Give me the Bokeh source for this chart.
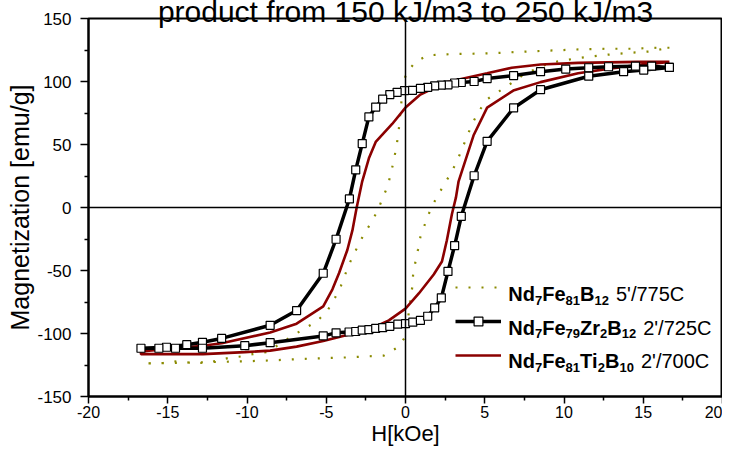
from bokeh.plotting import figure
from bokeh.models import (FixedTicker, Span, Label, Legend, LegendItem)
from bokeh.embed import file_html
from bokeh.resources import INLINE

# ---------------- data ----------------
# Nd7Fe79Zr2B12 2'/725C (black, squares): descending then ascending branch
zr_h_down = [16.65, 15.53, 14.51, 12.81, 11.56, 10.11, 8.52, 6.82, 5.15, 4.33, 3.52, 3.10, 2.68, 2.26,
             1.84, 1.40, 0.94, 0.44, -0.06, -0.53, -0.99, -1.44, -1.88, -2.31, -2.73, -3.14, -3.54,
             -4.38, -5.19, -6.87, -8.54, -11.60, -12.81, -13.80, -15.08, -16.69]
zr_m_down = [111.2, 112.2, 112.2, 111.7, 110.9, 109.9, 107.8, 104.7, 102.3, 100.0, 99.2, 98.8, 97.4, 97.2,
             96.6, 95.3, 94.5, 93.0, 92.8, 91.4, 89.6, 86.0, 79.7, 71.9, 50.7, 29.9, 6.8,
             -25.2, -52.2, -81.8, -93.5, -103.9, -107.0, -108.9, -110.9, -111.7]
zr_h_up = [-15.56, -14.51, -12.81, -10.14, -8.54, -5.19, -4.38, -3.56, -3.14, -2.73, -2.31, -1.88, -1.44,
           -0.99, -0.48, 0.00, 0.46, 0.94, 1.40, 1.84, 2.26, 2.68, 3.10, 3.52, 4.33, 5.15, 6.82, 8.52,
           11.56, 13.76, 15.03, 16.65]
zr_m_up = [-111.7, -111.7, -111.7, -109.7, -107.3, -101.9, -99.5, -98.8, -98.4, -97.4, -96.9, -95.9, -95.3,
           -94.3, -92.5, -92.2, -91.0, -89.6, -86.3, -79.7, -71.7, -50.7, -30.2, -7.0, 25.2, 52.5, 79.0, 93.5,
           104.2, 107.8, 109.1, 111.2]

# Nd7Fe81Ti2B10 2'/700C (dark red line)
ti_h_down = [16.65, 14.65, 10.89, 8.52, 6.70, 5.15, 2.51, 0.94, 0.00, -0.84, -1.88, -2.31, -2.73, -3.08,
             -3.35, -3.67, -4.19, -4.61, -5.19, -6.87, -8.54, -11.60, -12.78, -16.69]
ti_m_down = [115.6, 115.6, 114.8, 113.5, 110.9, 106.5, 99.2, 89.6, 79.3, 66.3, 52.0, 39.0, 20.8, 0.0,
             -18.2, -33.7, -52.0, -64.9, -78.5, -92.2, -99.2, -107.8, -109.7, -114.3]
ti_h_up = [-16.69, -12.78, -10.14, -8.54, -6.87, -5.19, -3.56, -2.73, -1.88, -1.05, 0.00, 0.84, 1.78,
           2.30, 2.61, 2.93, 3.18, 3.35, 4.29, 5.15, 6.80, 8.52, 10.89, 12.98, 14.65, 16.65]
ti_m_up = [-116.4, -116.4, -114.8, -113.6, -110.4, -106.0, -100.8, -98.8, -94.3, -89.6, -80.3, -68.2, -53.2,
           -42.9, -26.0, -5.2, 7.8, 20.8, 57.1, 79.3, 92.8, 99.5, 106.5, 110.4, 113.0, 115.6]

# Nd7Fe81B12 5'/775C (olive dotted)
b_h_down = [16.65, 15.87, 14.23, 12.63, 11.03, 9.42, 7.81, 6.22, 4.60, 3.03, 1.40, 0.63, 0.04, -0.17,
            -0.31, -0.46, -0.73, -1.11, -1.43, -1.76, -2.18, -2.66, -3.08, -3.45, -3.77, -4.08, -4.44,
            -4.92, -5.59, -6.39, -7.22, -8.02, -8.79, -9.64, -10.36, -11.20, -12.56, -13.40, -14.45,
            -15.29, -16.55]
b_m_down = [126.8, 126.8, 126.0, 126.0, 125.5, 124.7, 123.9, 122.9, 122.1, 121.8, 120.8, 115.6, 106.5, 96.1,
            76.6, 57.1, 37.6, 17.4, 7.8, -2.6, -12.2, -22.1, -32.5, -42.1, -52.0, -62.4, -71.5,
            -81.8, -90.4, -96.1, -102.6, -109.1, -114.8, -116.4, -118.2, -119.5, -123.4, -123.4, -122.0,
            -123.4, -123.9]
b_h_up = [-16.55, -10.20, -8.59, -6.18, -3.77, -1.36, -0.53, 0.00, 0.21, 0.31, 0.42, 0.48, 0.63, 0.79,
          0.94, 1.21, 1.53, 1.88, 2.34, 2.83, 3.24, 3.87, 4.18, 4.60, 5.13, 5.90, 6.70, 7.49, 9.11,
          10.68, 12.35, 13.92, 15.49, 16.29, 16.65]
b_m_up = [-123.9, -122.1, -121.4, -120.0, -119.0, -117.5, -111.2, -102.6, -83.2, -74.0, -63.7, -53.2,
          -42.9, -33.3, -23.4, -13.8, -3.1, 6.0, 16.1, 26.5, 36.4, 55.9, 65.7, 75.8, 85.7, 92.2, 98.8,
          105.8, 114.8, 118.2, 120.8, 122.6, 123.9, 126.0, 126.8]

x_ticks = [-20, -15, -10, -5, 0, 5, 10, 15, 20]
x_minor = [-17.5, -12.5, -7.5, -2.5, 2.5, 7.5, 12.5, 17.5]
y_ticks = [-150, -100, -50, 0, 50, 100, 150]
y_minor = [-125, -75, -25, 25, 75, 125]

title_text = "product from 150 kJ/m3 to 250 kJ/m3"
x_title = "H[kOe]"
y_title = "Magnetization [emu/g]"

legend_rows = [
    [("Nd", "b"), ("7", "s"), ("Fe", "b"), ("81", "s"), ("B", "b"), ("12", "s"), ("5'/775C", "r")],
    [("Nd", "b"), ("7", "s"), ("Fe", "b"), ("79", "s"), ("Zr", "b"), ("2", "s"), ("B", "b"), ("12", "s"),
     ("2'/725C", "r")],
    [("Nd", "b"), ("7", "s"), ("Fe", "b"), ("81", "s"), ("Ti", "b"), ("2", "s"), ("B", "b"), ("10", "s"),
     ("2'/700C", "r")],
]

OLIVE = "#8a8a00"
DARKRED = "#8B0000"
FONT = "Liberation Sans"

# ---------------- figure ----------------
p = figure(width=722, height=448, x_range=(-20, 20), y_range=(-150, 150),
           output_backend="svg", toolbar_location=None,
           min_border_left=88, min_border_right=0, min_border_top=18, min_border_bottom=45)
p.grid.visible = False
p.outline_line_color = "black"
p.outline_line_width = 2
p.background_fill_color = "white"
p.border_fill_color = "white"

# title, cut off at the top edge as in the original picture
p.title.text = title_text
p.title.text_font = FONT
p.title.text_font_size = "30px"
p.title.text_font_style = "normal"
p.title.text_color = "black"
p.title.align = "center"
p.title.offset = 14
p.title.standoff = -18

for ax in (p.xaxis[0], p.yaxis[0]):
    ax.axis_line_width = 2
    ax.major_tick_line_width = 1.5
    ax.minor_tick_line_width = 1.5
    ax.major_tick_in = 0
    ax.minor_tick_in = 0
    ax.major_label_text_font = FONT
    ax.major_label_text_color = "black"
    ax.axis_label_text_font = FONT
    ax.axis_label_text_font_style = "normal"
    ax.axis_label_text_color = "black"
    ax.axis_label_standoff = 0

p.xaxis.ticker = FixedTicker(ticks=x_ticks, minor_ticks=x_minor)
p.yaxis.ticker = FixedTicker(ticks=y_ticks, minor_ticks=y_minor)
p.xaxis.major_label_overrides = {t: str(t) for t in x_ticks}
p.yaxis.major_label_overrides = {t: str(t) for t in y_ticks}
p.xaxis.major_label_text_font_size = "16px"
p.yaxis.major_label_text_font_size = "17px"
p.xaxis.major_tick_out = 7
p.xaxis.minor_tick_out = 4
p.yaxis.major_tick_out = 8
p.yaxis.minor_tick_out = 4
p.xaxis.major_label_standoff = 2
p.yaxis.major_label_standoff = 9
p.xaxis.axis_label = x_title
p.yaxis.axis_label = y_title
p.xaxis.axis_label_text_font_size = "22px"
p.yaxis.axis_label_text_font_size = "25px"

p.add_layout(Span(location=0, dimension="height", line_color="black", line_width=1.5))
p.add_layout(Span(location=0, dimension="width", line_color="black", line_width=1.5))

b_h = b_h_down + b_h_up
b_m = b_m_down + b_m_up
ti_h = ti_h_down + ti_h_up
ti_m = ti_m_down + ti_m_up
zr_h = zr_h_down + zr_h_up
zr_m = zr_m_down + zr_m_up

r_b = p.line(b_h, b_m, line_color=OLIVE, line_width=2.2, line_dash="2 11")
r_ti = p.line(ti_h, ti_m, line_color=DARKRED, line_width=2.6)
r_zr = p.line(zr_h, zr_m, line_color="black", line_width=3.5)
r_zr_pts = p.scatter(zr_h, zr_m, marker="square", size=8, fill_color="white",
                     line_color="black", line_width=1.2)

legend = Legend(items=[LegendItem(label=" ", renderers=[r_b]),
                       LegendItem(label=" ", renderers=[r_zr, r_zr_pts]),
                       LegendItem(label=" ", renderers=[r_ti])],
                location=(367, 30), glyph_width=46, glyph_height=22, label_height=22,
                label_width=0, label_standoff=0, spacing=12, padding=0, margin=0,
                label_text_font_size="1px", border_line_color=None, background_fill_alpha=0)
p.add_layout(legend)

# rich legend text (Arial-compatible metrics for piece widths)
W_B = {"N": .722, "d": .611, "F": .611, "e": .556, "B": .722, "Z": .611, "r": .389, "T": .611,
       "i": .278, " ": .278}
W_R = {"'": .191, "/": .278, "C": .722, " ": .278}


def width(text, size, table):
    return sum(table.get(ch, .556) for ch in text) * size


legend_x = 6.49
legend_y = [-68.8, -95.3, -122.1]
for row, yb in zip(legend_rows, legend_y):
    off = 0.0
    for txt, kind in row:
        if kind == "b":
            size, style, dy, tbl = 20, "bold", 0, W_B
        elif kind == "s":
            size, style, dy, tbl = 13, "bold", -6, W_B
        else:
            size, style, dy, tbl = 20, "normal", 0, W_R
            off += 7
        p.add_layout(Label(x=legend_x, y=yb, x_offset=off, y_offset=dy, text=txt,
                           text_font=FONT, text_font_size=f"{size}px", text_font_style=style,
                           text_baseline="alphabetic", text_align="left", text_color="black"))
        off += width(txt, size, tbl)

open("out.html", "w").write(file_html(p, INLINE))
